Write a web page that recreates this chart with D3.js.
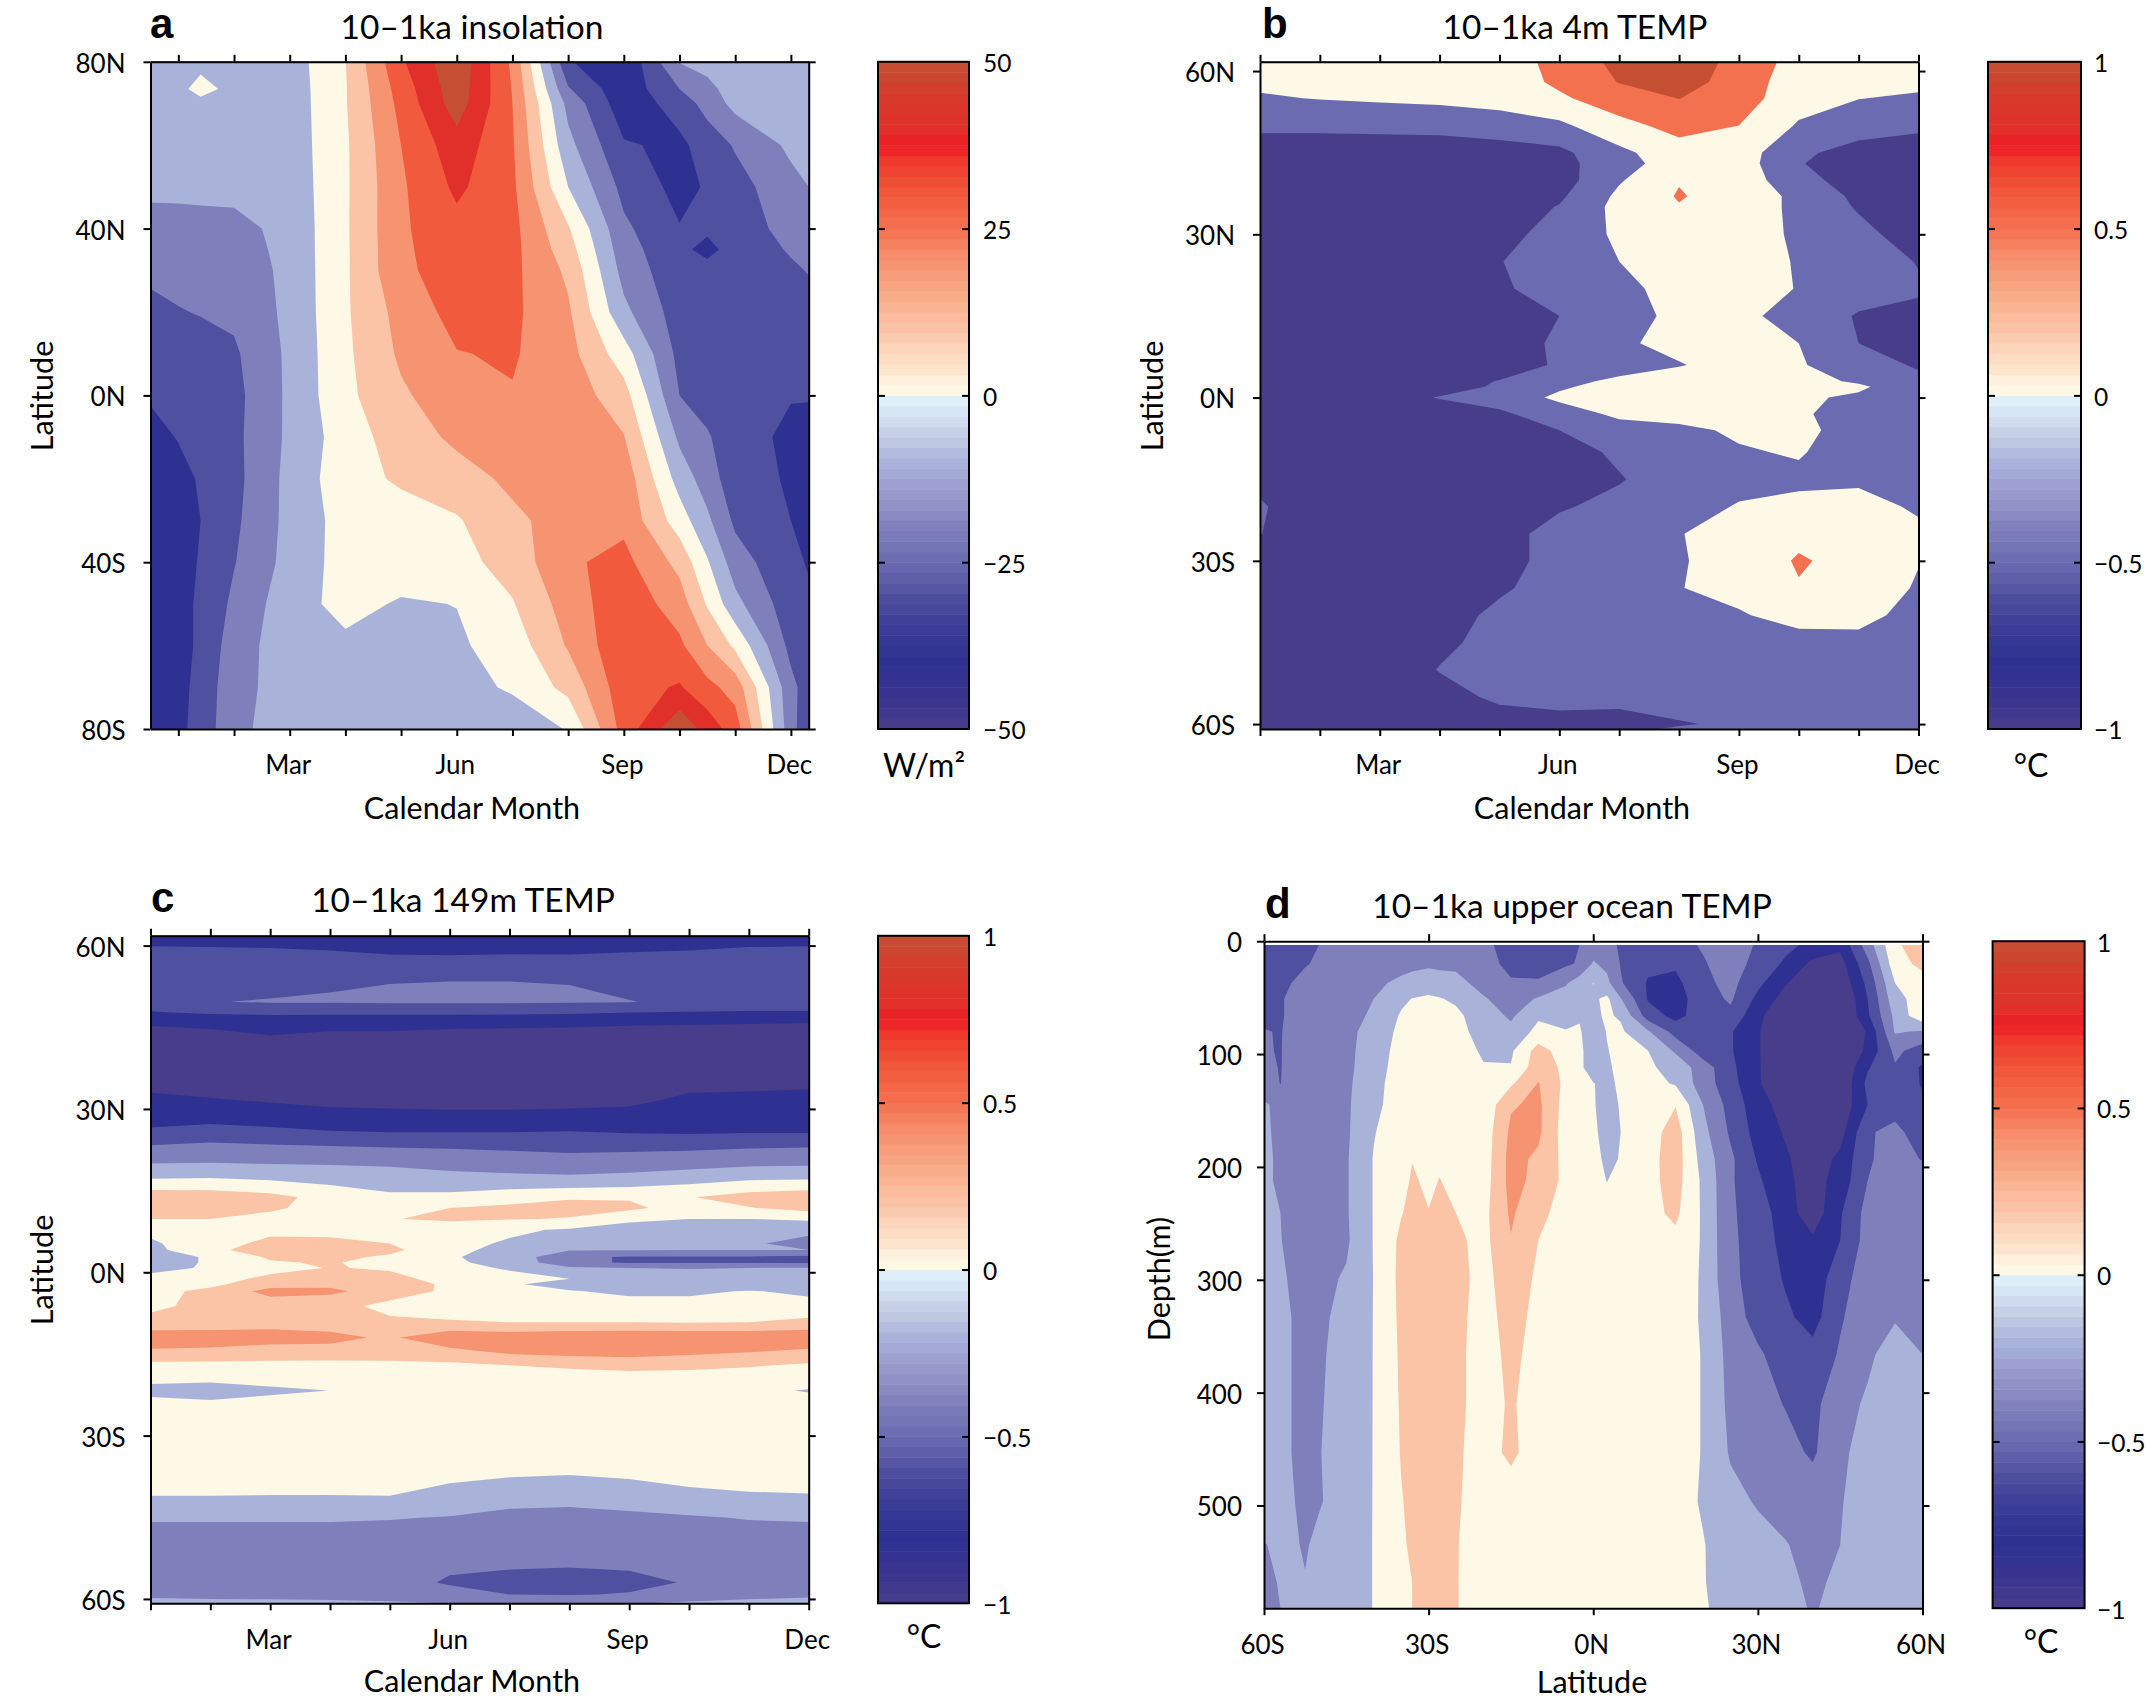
<!DOCTYPE html>
<html>
<head>
<meta charset="utf-8">
<script src="https://cdn.jsdelivr.net/npm/d3@7"></script>
<style>
  body { margin: 0; background: #fff; }
  text { font-family: Lato, "Open Sans", sans-serif; fill: #000; }
  .domain, .tick line { stroke: #000; stroke-width: 2; }
</style>
</head>
<body>
<svg id="chart" width="2146" height="1701"></svg>
<script>
// contour levels, a band takes the colour of its lower level
var levelsA = [-40, -30, -20, -10, 0, 10, 20, 30, 40, 50];
var levelsB = [-0.5, 0, 0.5, 1];
var levelsFine = [-0.8, -0.6, -0.4, -0.2, 0, 0.2, 0.4, 0.6, 0.8, 1];

var monthTicks = [1, 2, 3, 4, 5, 6, 7, 8, 9, 10, 11, 12];
var monthNames = { 3: "Mar", 6: "Jun", 9: "Sep", 12: "Dec" };

// a: insolation, W/m2
var monthsA = [0.5, 1, 1.4, 2, 3, 4, 5, 6, 7, 8, 9, 10, 10.5, 11, 12, 12.32];
var latsA = [80, 73.5, 70, 60, 50, 40, 35, 30, 20, 10, 0, -10, -20, -30, -40, -50, -60, -70, -80];
var insolation = [
  [-6,-4,-4.4,-5,-5,9.7,38.5,58,28,-29,-39,-9.5,-7.5,-6,-5,-5],
  [-5,-4,5,-4.5,-5.5,9.3,34.5,56,29.5,-19,-37,-20,-12,-6.8,-5,-4.4],
  [-4.5,-4.5,-4.3,-4,-5.7,9.3,33,55,30,-13,-36,-26,-16,-7,-5,-4],
  [-4,-4,-4,-4,-5.7,8.5,30,46,31,-7,-29,-32,-26,-19,-8,-6],
  [-8.5,-8,-7.6,-7,-6.3,8.5,28.5,42,32,0,-23,-33,-29,-24,-13,-10],
  [-12.5,-13,-13,-13,-7,8.6,28.5,37,33,11,-18,-29.5,-28.5,-26,-16,-13],
  [-15,-15,-15,-14.7,-7,8.5,28.2,35.8,33,14.5,-15.7,-28,-32.5,-26.5,-19,-16],
  [-18,-17,-17,-16.5,-7.2,8.5,28,34.6,32.5,18,-13.5,-27,-27,-27,-21.5,-19.5],
  [-22.5,-20.5,-19.5,-18,-7.6,8.6,23.6,33.5,32,21.5,-7.5,-25,-25.5,-26,-24,-23.5],
  [-27,-26,-24,-21.5,-8,8,21.7,29.6,31,23.6,4.5,-23,-25,-27,-28,-28.5],
  [-29,-28,-26,-23,-8,7.5,18.5,26,29.4,26,14,-20,-24,-28,-29.5,-29.5],
  [-33,-29.5,-27,-22.5,-8,5,15,22,26,27,20.5,-12,-19,-26,-32,-32.5],
  [-35,-33,-29,-23,-7,6,11.5,16,22,25.5,26,-4,-15,-26,-31,-31.5],
  [-36,-35,-30,-22,-7,4,5.5,9,18,24,27.5,5,-8,-22,-30,-31],
  [-37,-35,-29,-20.5,-6.5,4,5,6.5,14,28.5,33,17,1,-15,-28.5,-30.5],
  [-35.5,-34,-28,-18,-4,3,-1,0.2,9.3,24.5,37,25,9,-7,-26,-29],
  [-34,-34,-28,-15,-4,-2,-4,-1.5,4.5,21,38,32,20,8,-23,-27],
  [-34,-33,-27,-13,-6,-6,-5,-3,1.1,13,36,41,33,26,-17,-25],
  [-33,-32,-27,-11.5,-7,-7,-7,-5,-5,0.5,34,58,46,35,-16,-28]
];

// b: 4m temperature, deg C
var latsB = [61.7, 58, 55, 50, 45, 43, 40, 37, 35, 30, 25, 20, 15, 10, 6, 3, 2, 0, -3, -6, -10, -15, -20, -25, -30, -35, -40, -45, -50, -55, -60, -60.9];
var temp4m = [
  [.2,.2,.2,.2,.3,.62,1.15,1.3,.85,.3,.2,.2],
  [.1,.1,.1,.15,.2,.6,1.02,1.2,.8,.2,.1,.1],
  [-.05,.02,.07,.12,.2,.42,.78,1.01,.72,.2,.01,-.06],
  [-.4,-.4,-.38,-.36,-.25,-.1,.35,.66,.5,-.05,-.25,-.4],
  [-.75,-.75,-.75,-.75,-.72,-.62,-.12,.3,.25,-.4,-.7,-.75],
  [-.75,-.75,-.75,-.75,-.75,-.62,-.27,.35,.25,-.47,-.75,-.75],
  [-.75,-.75,-.75,-.75,-.75,-.72,-.05,.47,.3,-.35,-.7,-.8],
  [-.75,-.75,-.75,-.75,-.75,-.58,.1,.54,.25,-.1,-.62,-.8],
  [-.75,-.75,-.75,-.75,-.8,-.47,.15,.47,.25,-.1,-.55,-.8],
  [-.75,-.75,-.75,-.75,-.67,-.3,.08,.35,.3,-.1,-.35,-.75],
  [-.75,-.75,-.75,-.75,-.52,-.22,0,.3,.3,-.05,-.3,-.52],
  [-.75,-.75,-.75,-.75,-.55,-.35,-.15,.2,.3,-.03,-.3,-.45],
  [-.75,-.75,-.75,-.75,-.65,-.5,-.25,.15,.13,-.2,-.54,-.6],
  [-.75,-.75,-.75,-.75,-.65,-.45,-.08,.15,.2,0,-.5,-.6],
  [-.75,-.75,-.75,-.75,-.62,-.47,-.22,-.03,.2,.05,-.3,-.55],
  [-.75,-.75,-.75,-.6,-.49,-.15,.1,.25,.3,.2,-.08,-.4],
  [-.75,-.75,-.75,-.65,-.45,-.07,.2,.3,.3,.25,.1,-.4],
  [-.75,-.75,-.65,-.48,-.3,.1,.2,.25,.25,.1,-.1,-.4],
  [-.75,-.75,-.75,-.7,-.58,-.25,.1,.2,.22,.08,-.25,-.4],
  [-.75,-.75,-.75,-.75,-.65,-.5,-.2,-.12,.08,.18,-.3,-.4],
  [-.75,-.75,-.75,-.75,-.7,-.62,-.45,-.3,-.05,.05,-.3,-.35],
  [-.6,-.75,-.75,-.75,-.7,-.62,-.52,-.35,-.22,-.12,-.12,-.3],
  [-.46,-.75,-.75,-.75,-.65,-.53,-.42,-.3,.05,.15,.25,-.1],
  [-.49,-.75,-.75,-.75,-.6,-.4,-.25,-.02,.2,.35,.3,.15],
  [-.7,-.75,-.75,-.75,-.6,-.4,-.2,-.02,.1,.56,.3,.02],
  [-.75,-.75,-.75,-.75,-.55,-.35,-.2,-.01,.1,.46,.3,-.05],
  [-.75,-.75,-.75,-.65,-.42,-.3,-.25,-.15,-.03,.12,.13,-.15],
  [-.75,-.75,-.7,-.55,-.42,-.35,-.32,-.3,-.2,-.12,-.12,-.25],
  [-.75,-.75,-.65,-.49,-.42,-.38,-.35,-.32,-.3,-.3,-.3,-.3],
  [-.75,-.75,-.75,-.58,-.46,-.43,-.42,-.38,-.35,-.35,-.35,-.35],
  [-.75,-.75,-.75,-.7,-.6,-.57,-.6,-.52,-.46,-.45,-.45,-.45],
  [-.75,-.75,-.75,-.7,-.62,-.6,-.56,-.47,-.45,-.45,-.45,-.45]
];

// c: 149m temperature, deg C
var latsC = [61.8, 59.1, 55.1, 51.4, 49.7, 47.7, 44.7, 37.7, 31.7, 28.7, 25.7, 22.9, 19.7, 16.9, 13.8, 11.8, 9.8, 7.8, 5.3, 4.1, 2.8, 1.8, 0.8, -1.2, -2.2, -3.5, -6.2, -9.2, -12, -14.7, -17.1, -19.3, -21.7, -24.1, -32.1, -37.1, -41.1, -45.1, -51, -57, -59.2, -60.8];
var temp149m = [
  [-.7,-.7,-.7,-.7,-.7,-.7,-.7,-.7,-.7,-.7,-.7,-.7],
  [-.56,-.57,-.58,-.6,-.63,-.64,-.63,-.63,-.61,-.6,-.57,-.56],
  [-.52,-.52,-.5,-.49,-.47,-.46,-.46,-.47,-.49,-.5,-.52,-.52],
  [-.5,-.48,-.44,-.4,-.35,-.33,-.33,-.36,-.44,-.48,-.5,-.5],
  [-.52,-.41,-.38,-.38,-.37,-.37,-.37,-.38,-.39,-.46,-.48,-.48],
  [-.61,-.58,-.57,-.57,-.57,-.57,-.57,-.58,-.6,-.61,-.62,-.62],
  [-.84,-.8,-.77,-.79,-.79,-.8,-.81,-.82,-.85,-.86,-.88,-.9],
  [-.95,-.95,-.95,-.95,-.95,-.95,-.95,-.95,-.95,-.95,-.95,-.95],
  [-.76,-.79,-.82,-.86,-.87,-.88,-.88,-.87,-.85,-.76,-.75,-.73],
  [-.67,-.675,-.7,-.73,-.74,-.75,-.75,-.74,-.73,-.69,-.68,-.68],
  [-.57,-.52,-.55,-.585,-.6,-.6,-.6,-.59,-.61,-.62,-.61,-.61],
  [-.37,-.34,-.36,-.38,-.4,-.41,-.43,-.45,-.44,-.43,-.41,-.4],
  [-.185,-.18,-.19,-.2,-.21,-.25,-.27,-.29,-.28,-.26,-.22,-.21],
  [.02,.03,0,-.05,-.12,-.12,-.14,-.15,-.12,-.06,0,.01],
  [.33,.32,.26,.13,.05,.05,.12,.18,.18,.19,.28,.33],
  [.3,.3,.24,.1,.1,.2,.24,.26,.24,.12,.19,.27],
  [.2,.2,.12,.08,.19,.24,.21,.19,.04,0,0,.03],
  [.05,.12,.15,.15,.05,.05,.03,-.02,-.08,-.1,-.17,-.16],
  [-.03,.12,.25,.24,.2,.05,-.02,-.1,-.15,-.17,-.18,-.25],
  [-.06,.15,.3,.3,.25,.05,-.06,-.19,-.19,-.2,-.2,-.2],
  [-.08,.02,.23,.25,.17,.02,-.08,-.35,-.42,-.42,-.42,-.44],
  [-.08,.02,.18,.22,.12,.03,-.06,-.35,-.42,-.42,-.42,-.42],
  [-.05,.02,.12,.21,.18,.03,-.01,-.17,-.2,-.21,-.2,-.19],
  [.05,.1,.26,.33,.25,.14,.03,0,-.06,-.1,-.1,-.1],
  [.08,.15,.33,.37,.29,.17,.02,-.06,-.12,-.15,-.12,-.1],
  [.12,.26,.46,.43,.33,.15,.03,.01,-.03,-.03,.01,-.03],
  [.15,.27,.3,.3,.12,.1,.1,.08,.06,.06,.05,.05],
  [.27,.32,.35,.32,.25,.22,.2,.2,.2,.19,.2,.26],
  [.52,.48,.46,.45,.37,.55,.52,.55,.56,.56,.55,.55],
  [.36,.36,.33,.33,.31,.33,.43,.47,.48,.44,.4,.35],
  [.14,.13,.13,.12,.14,.16,.2,.23,.27,.25,.22,.17],
  [.05,.05,.07,.08,.1,.1,.1,.12,.12,.12,.1,.1],
  [-.05,-.08,-.03,.001,.03,.05,.06,.06,.06,.05,.03,-.01],
  [.05,.03,.05,.06,.06,.06,.06,.06,.06,.06,.06,.05],
  [.1,.1,.1,.1,.1,.1,.1,.1,.1,.1,.1,.1],
  [.1,.1,.1,.1,.1,.05,.02,.005,.03,.07,.08,.08],
  [-.001,-.001,-.005,-.005,-.001,-.07,-.13,-.14,-.11,-.05,-.02,-.01],
  [-.18,-.18,-.18,-.18,-.19,-.21,-.25,-.26,-.24,-.22,-.19,-.18],
  [-.33,-.33,-.33,-.33,-.33,-.33,-.34,-.33,-.33,-.33,-.33,-.33],
  [-.3,-.3,-.3,-.31,-.33,-.42,-.44,-.46,-.44,-.39,-.33,-.31],
  [-.25,-.27,-.27,-.28,-.3,-.33,-.4,-.41,-.39,-.32,-.27,-.24],
  [-.12,-.13,-.14,-.15,-.17,-.2,-.22,-.22,-.21,-.17,-.14,-.12]
];

// d: upper ocean section, deg C
var latsD = [-60,-57,-55,-52.5,-50,-45,-40,-35,-33,-30,-28,-25,-20,-15,-10,-5,-2.5,0,2.5,5,10,15,20,25,30,35,40,45,50,55,60];
var depthsD = [3.4, 20, 37, 51, 66, 80, 97, 112, 126, 145, 169, 193, 212, 241, 265, 299, 333, 366, 410, 453, 496, 535, 568, 591];
var tempSection = [
  [-.5,-.47,-.45,-.42,-.4,-.33,-.3,-.3,-.3,-.3,-.3,-.3,-.37,-.45,-.48,-.46,-.4,-.3,-.35,-.42,-.5,-.47,-.38,-.3,-.42,-.55,-.65,-.75,-.3,.17,.3],
  [-.5,-.47,-.45,-.41,-.38,-.32,-.28,-.25,-.24,-.23,-.24,-.25,-.33,-.45,-.47,-.43,-.38,-.18,-.25,-.41,-.55,-.57,-.42,-.3,-.47,-.63,-.85,-.88,-.45,.12,.25],
  [-.5,-.44,-.4,-.36,-.33,-.28,-.23,-.17,-.14,-.1,-.12,-.13,-.28,-.38,-.38,-.22,-.1,.005,-.15,-.38,-.62,-.65,-.45,-.34,-.55,-.78,-.95,-.95,-.55,0,.12],
  [-.45,-.41,-.38,-.35,-.33,-.26,-.2,-.04,.005,.03,.01,-.03,-.18,-.3,-.18,-.12,-.05,-.03,.04,-.19,-.62,-.68,-.5,-.37,-.65,-.88,-1,-1.05,-.6,-.07,.1],
  [-.45,-.41,-.38,-.35,-.33,-.27,-.17,.02,.06,.1,.08,.04,-.1,-.23,-.03,-.07,-.02,-.03,.02,-.02,-.5,-.66,-.5,-.45,-.75,-.98,-1.05,-1.05,-.63,-.15,.15],
  [-.39,-.41,-.35,-.32,-.3,-.25,-.13,.05,.09,.12,.1,.06,-.07,-.15,.06,.01,.02,-.12,.01,.03,-.18,-.48,-.55,-.58,-.78,-1,-1.05,-1.05,-.78,-.18,-.22],
  [-.385,-.41,-.33,-.31,-.3,-.25,-.1,.07,.1,.13,.11,.07,-.02,-.03,.28,.1,.04,-.1,-.01,.06,0,-.23,-.5,-.58,-.78,-1,-1.05,-1.05,-.75,-.35,-.5],
  [-.35,-.41,-.32,-.3,-.29,-.25,-.08,.08,.11,.14,.12,.08,.01,.01,.32,.15,.05,-.12,-.03,.05,.03,-.07,-.3,-.55,-.78,-.98,-1.05,-1,-.62,-.42,-.63],
  [-.3,-.405,-.3,-.29,-.28,-.24,-.06,.09,.11,.14,.12,.09,.04,.17,.41,.15,.05,.01,-.07,.05,.07,-.02,-.3,-.52,-.78,-.95,-1.02,-.98,-.55,-.44,-.62],
  [-.18,-.24,-.3,-.29,-.28,-.23,-.05,.1,.12,.14,.12,.1,.05,.38,.44,.12,.08,.02,-.1,.02,.17,.19,-.2,-.47,-.72,-.88,-1,-.95,-.6,-.48,-.57],
  [-.17,-.24,-.3,-.29,-.28,-.23,-.01,.11,.13,.15,.13,.11,.08,.44,.44,.1,.07,.04,-.08,0,.1,.3,-.14,-.43,-.68,-.82,-1,-.88,-.42,-.35,-.5],
  [-.15,-.24,-.3,-.29,-.28,-.22,.01,.13,.195,.16,.17,.13,.09,.47,.36,.14,.1,.06,-.04,.01,.13,.3,-.08,-.36,-.62,-.77,-.92,-.75,-.42,-.33,-.41],
  [-.14,-.25,-.3,-.29,-.28,-.22,.01,.14,.22,.17,.205,.15,.1,.47,.34,.15,.12,.08,-.005,.07,.14,.28,-.04,-.37,-.57,-.76,-.88,-.72,-.4,-.33,-.31],
  [-.12,-.2,-.28,-.275,-.27,-.22,.01,.19,.25,.205,.25,.2,.14,.43,.24,.14,.12,.1,.08,.09,.14,.24,-.03,-.37,-.5,-.7,-.92,-.62,-.33,-.29,-.3],
  [-.12,-.19,-.27,-.27,-.27,-.23,.01,.24,.27,.3,.28,.24,.14,.39,.2,.14,.12,.11,.1,.1,.12,.15,-.02,-.37,-.47,-.68,-.77,-.6,-.32,-.28,-.28],
  [-.11,-.17,-.22,-.24,-.25,-.18,.005,.25,.3,.32,.3,.26,.14,.3,.17,.14,.12,.11,.1,.1,.1,.1,-.02,-.36,-.47,-.62,-.72,-.48,-.29,-.27,-.27],
  [-.1,-.16,-.2,-.22,-.24,-.14,.005,.24,.3,.32,.3,.25,.13,.27,.15,.13,.12,.11,.1,.1,.1,.09,-.02,-.3,-.48,-.56,-.68,-.42,-.29,-.22,-.26],
  [-.1,-.16,-.2,-.22,-.23,-.12,.005,.23,.28,.3,.29,.24,.13,.24,.14,.12,.12,.11,.1,.1,.1,.09,-.01,-.27,-.37,-.5,-.53,-.38,-.24,-.1,-.2],
  [-.1,-.16,-.2,-.215,-.22,-.11,.005,.22,.27,.28,.27,.24,.13,.22,.12,.12,.11,.11,.1,.1,.1,.09,-.01,-.25,-.32,-.41,-.45,-.28,-.17,-.08,-.12],
  [-.1,-.15,-.2,-.215,-.21,-.1,.005,.21,.25,.27,.26,.23,.12,.24,.1,.11,.11,.1,.1,.1,.1,.09,-.01,-.22,-.27,-.33,-.43,-.23,-.14,-.08,-.08],
  [-.09,-.14,-.195,-.215,-.22,-.09,.005,.19,.24,.26,.25,.22,.12,.1,.1,.1,.1,.1,.1,.1,.1,.08,-.02,-.14,-.22,-.27,-.28,-.21,-.13,-.07,-.07],
  [-.21,-.16,-.17,-.22,-.15,-.08,.005,.17,.23,.25,.24,.21,.11,.1,.1,.1,.1,.1,.1,.1,.1,.08,.01,-.1,-.13,-.19,-.26,-.2,-.1,-.07,-.07],
  [-.27,-.18,-.15,-.19,-.12,-.08,.005,.16,.2,.24,.23,.21,.1,.1,.1,.1,.1,.1,.1,.1,.1,.08,.01,-.08,-.1,-.15,-.24,-.16,-.09,-.07,-.06],
  [-.3,-.2,-.14,-.14,-.12,-.08,.005,.15,.2,.24,.23,.21,.1,.1,.1,.1,.1,.1,.1,.1,.1,.08,.02,-.07,-.09,-.12,-.22,-.13,-.08,-.06,-.05]
];

// colorbar is a 64 step map, split at zero
var warmColor = d3.scaleLinear()
  .domain([0, .03, .07, .2, .3, .4, .5, .6, .7, .75, .8, .9, 1])
  .range(["#fdf9e6", "#fef8e4", "#fde6d0", "#fbc4a6", "#f8ac88", "#f69370", "#f4714f", "#f15a3c", "#ef3b2c", "#ed1c24", "#e1302a", "#d63a2a", "#c44f33"]);
var coolColor = d3.scaleLinear()
  .domain([0, .07, .13, .2, .3, .4, .5, .6, .7, .8, .9, 1])
  .range(["#e3f3fb", "#d1dff0", "#c0cae4", "#a9b3da", "#9698cb", "#7f80bb", "#6a6bb0", "#5050a0", "#3a3c96", "#2e3192", "#3a3490", "#483d8b"]);

function mapColor(t) {
  return t >= 0 ? warmColor(t) : coolColor(-t);
}

function latLabel(d) {
  if (d > 0) return d + "N";
  if (d < 0) return (-d) + "S";
  return "0N";
}

function monthLabel(d) {
  return monthNames[d] || "";
}

var svg = d3.select("#chart");

function drawField(p) {
  var ny = p.rows.length, nx = p.cols.length;
  var values = [];
  p.rows.forEach(function (r) { r.forEach(function (v) { values.push(v); }); });

  var xIndex = d3.scaleLinear()
    .domain(p.cols.map(function (d, i) { return i + 0.5; }))
    .range(p.cols.map(function (d) { return p.x(d); }))
    .clamp(true);
  var yIndex = d3.scaleLinear()
    .domain(p.rowPos.map(function (d, i) { return i + 0.5; }))
    .range(p.rowPos.map(function (d) { return p.y(d); }))
    .clamp(true);

  var path = d3.geoPath(d3.geoTransform({
    point: function (a, b) { this.stream.point(xIndex(a), yIndex(b)); }
  }));

  var x0 = p.x(p.cols[0]), x1 = p.x(p.cols[nx - 1]);
  var y0 = p.y(p.rowPos[0]), y1 = p.y(p.rowPos[ny - 1]);
  svg.append("rect")
    .attr("x", x0).attr("y", y0)
    .attr("width", x1 - x0).attr("height", y1 - y0)
    .attr("fill", mapColor(-1));

  var contours = d3.contours().size([nx, ny]).thresholds(p.levels)(values);
  svg.append("g").selectAll("path")
    .data(contours)
    .enter().append("path")
    .attr("d", path)
    .attr("fill", function (d) { return mapColor(d.value / p.max); });
}

function drawFrame(p) {
  var xr = p.x.range(), yr = p.y.range();
  var g = svg.append("g");

  var bottom = g.append("g").attr("transform", "translate(0," + yr[1] + ")")
    .call(d3.axisBottom(p.x).tickValues(p.xTicks).tickSizeInner(7).tickSizeOuter(0).tickPadding(p.xPad).tickFormat(p.xFormat));
  bottom.selectAll("text").attr("dx", -2);
  g.append("g").attr("transform", "translate(0," + yr[0] + ")")
    .call(d3.axisTop(p.x).tickValues(p.xTicks).tickSizeInner(7).tickSizeOuter(0).tickFormat(""));
  var left = g.append("g").attr("transform", "translate(" + xr[0] + ",0)")
    .call(d3.axisLeft(p.y).tickValues(p.yTicks).tickSizeInner(7).tickSizeOuter(0).tickPadding(p.yPad).tickFormat(p.yFormat));
  left.selectAll("text").attr("dy", "0.4em");
  g.append("g").attr("transform", "translate(" + xr[1] + ",0)")
    .call(d3.axisRight(p.y).tickValues(p.yTicks).tickSizeInner(7).tickSizeOuter(0).tickFormat(""));
  g.selectAll("text").attr("font-size", 26).style("font-family", "Lato");

  svg.append("text").attr("x", p.letterX).attr("y", p.letterY)
    .attr("font-size", 42).attr("font-weight", "bold")
    .style("font-family", "Liberation Sans")
    .text(p.letter);
  svg.append("text").attr("x", p.titleX).attr("y", p.titleY)
    .attr("text-anchor", "middle").attr("font-size", 33.5)
    .text(p.title);
  svg.append("text").attr("x", p.xTitleX).attr("y", p.xTitleY)
    .attr("text-anchor", "middle").attr("font-size", 30.5)
    .text(p.xTitle);
  svg.append("text")
    .attr("transform", "translate(" + p.yTitleX + "," + p.yTitleY + ") rotate(-90)")
    .attr("text-anchor", "middle").attr("font-size", 30.5)
    .text(p.yTitle);
}

function drawColorbar(p) {
  var c = p.bar;
  var y = d3.scaleLinear().domain([-1, 1]).range([c.y1, c.y0]);
  var steps = d3.range(64);
  svg.append("g").selectAll("rect")
    .data(steps)
    .enter().append("rect")
    .attr("x", c.x0)
    .attr("width", c.x1 - c.x0)
    .attr("y", function (i) { return y(-1 + (i + 1) / 32); })
    .attr("height", function (i) { return y(-1 + i / 32) - y(-1 + (i + 1) / 32) + 0.5; })
    .attr("fill", function (i) { return mapColor(-1 + (i + 0.5) / 32); });

  svg.append("rect")
    .attr("x", c.x0).attr("y", c.y0)
    .attr("width", c.x1 - c.x0).attr("height", c.y1 - c.y0)
    .attr("fill", "none").attr("stroke", "#000").attr("stroke-width", 2);

  var ticks = [-1, -0.5, 0, 0.5, 1];
  var g = svg.append("g");
  g.append("g").attr("transform", "translate(" + c.x1 + ",0)")
    .call(d3.axisRight(y).tickValues(ticks).tickSizeInner(-7).tickSizeOuter(0).tickPadding(c.pad)
      .tickFormat(function (d) { return c.labels[ticks.indexOf(d)]; }));
  g.append("g").attr("transform", "translate(" + c.x0 + ",0)")
    .call(d3.axisLeft(y).tickValues(ticks).tickSizeInner(-7).tickSizeOuter(0).tickFormat(""));
  g.selectAll(".domain").remove();
  g.selectAll("text").attr("font-size", 24.5).attr("dy", "0.4em").style("font-family", "Lato");
  g.selectAll("line").filter(function (d) { return d === -1 || d === 1; }).remove();

  svg.append("text").attr("x", c.unitX).attr("y", c.unitY)
    .attr("text-anchor", "middle").attr("font-size", 32)
    .text(c.unit);
}

var tempLabels = ["\u22121", "\u22120.5", "0", "0.5", "1"];

var panels = [
  {
    letter: "a", letterX: 150, letterY: 38, title: "10\u20131ka insolation", titleX: 472, titleY: 39,
    cols: monthsA, rowPos: latsA, rows: insolation, levels: levelsA, max: 50,
    x: d3.scaleLinear().domain([0.5, 12.32]).range([150.5, 808.7]),
    y: d3.scaleLinear().domain([80, -80]).range([61.8, 729]),
    xTicks: monthTicks, yTicks: [80, 40, 0, -40, -80], xFormat: monthLabel, yFormat: latLabel, xPad: 20, yPad: 18,
    xTitle: "Calendar Month", xTitleX: 472, xTitleY: 819, yTitle: "Latitude", yTitleX: 53, yTitleY: 396,
    bar: { x0: 878, x1: 969, y0: 61.8, y1: 729, pad: 14, labels: ["\u221250", "\u221225", "0", "25", "50"], unit: "W/m\u00b2", unitX: 924, unitY: 777 }
  },
  {
    letter: "b", letterX: 1262, letterY: 38, title: "10\u20131ka 4m TEMP", titleX: 1575, titleY: 39,
    cols: monthTicks, rowPos: latsB, rows: temp4m, levels: levelsB, max: 1,
    x: d3.scaleLinear().domain([1, 12]).range([1260, 1918.5]),
    y: d3.scaleLinear().domain([61.7, -60.9]).range([61.8, 729]),
    xTicks: monthTicks, yTicks: [60, 30, 0, -30, -60], xFormat: monthLabel, yFormat: latLabel, xPad: 20, yPad: 18,
    xTitle: "Calendar Month", xTitleX: 1582, xTitleY: 819, yTitle: "Latitude", yTitleX: 1163, yTitleY: 396,
    bar: { x0: 1988, x1: 2081, y0: 61.8, y1: 729, pad: 13, labels: tempLabels, unit: "\u00b0C", unitX: 2031, unitY: 777 }
  },
  {
    letter: "c", letterX: 151, letterY: 912, title: "10\u20131ka 149m TEMP", titleX: 463, titleY: 912,
    cols: monthTicks, rowPos: latsC, rows: temp149m, levels: levelsFine, max: 1,
    x: d3.scaleLinear().domain([1, 12]).range([150.5, 808.7]),
    y: d3.scaleLinear().domain([61.8, -60.8]).range([935.8, 1603.3]),
    xTicks: monthTicks, yTicks: [60, 30, 0, -30, -60], xFormat: monthLabel, yFormat: latLabel, xPad: 20, yPad: 18,
    xTitle: "Calendar Month", xTitleX: 472, xTitleY: 1692, yTitle: "Latitude", yTitleX: 53, yTitleY: 1270,
    bar: { x0: 878, x1: 969, y0: 935.8, y1: 1603.3, pad: 14, labels: tempLabels, unit: "\u00b0C", unitX: 924, unitY: 1648 }
  },
  {
    letter: "d", letterX: 1265, letterY: 918, title: "10\u20131ka upper ocean TEMP", titleX: 1572, titleY: 918,
    cols: latsD, rowPos: depthsD, rows: tempSection, levels: levelsFine, max: 1,
    x: d3.scaleLinear().domain([-60, 60]).range([1264, 1922.5]),
    y: d3.scaleLinear().domain([0, 591]).range([941.2, 1608.2]),
    xTicks: [-60, -30, 0, 30, 60], yTicks: [0, 100, 200, 300, 400, 500], xFormat: latLabel, yFormat: function (d) { return d; }, xPad: 20, yPad: 15,
    xTitle: "Latitude", xTitleX: 1592, xTitleY: 1693, yTitle: "Depth(m)", yTitleX: 1170, yTitleY: 1279,
    bar: { x0: 1992.6, x1: 2084.6, y0: 941.2, y1: 1608.2, pad: 12.4, labels: tempLabels, unit: "\u00b0C", unitX: 2041, unitY: 1653 }
  }
];

panels.forEach(function (p) {
  drawField(p);
  drawFrame(p);
  drawColorbar(p);
});
</script>
</body>
</html>
